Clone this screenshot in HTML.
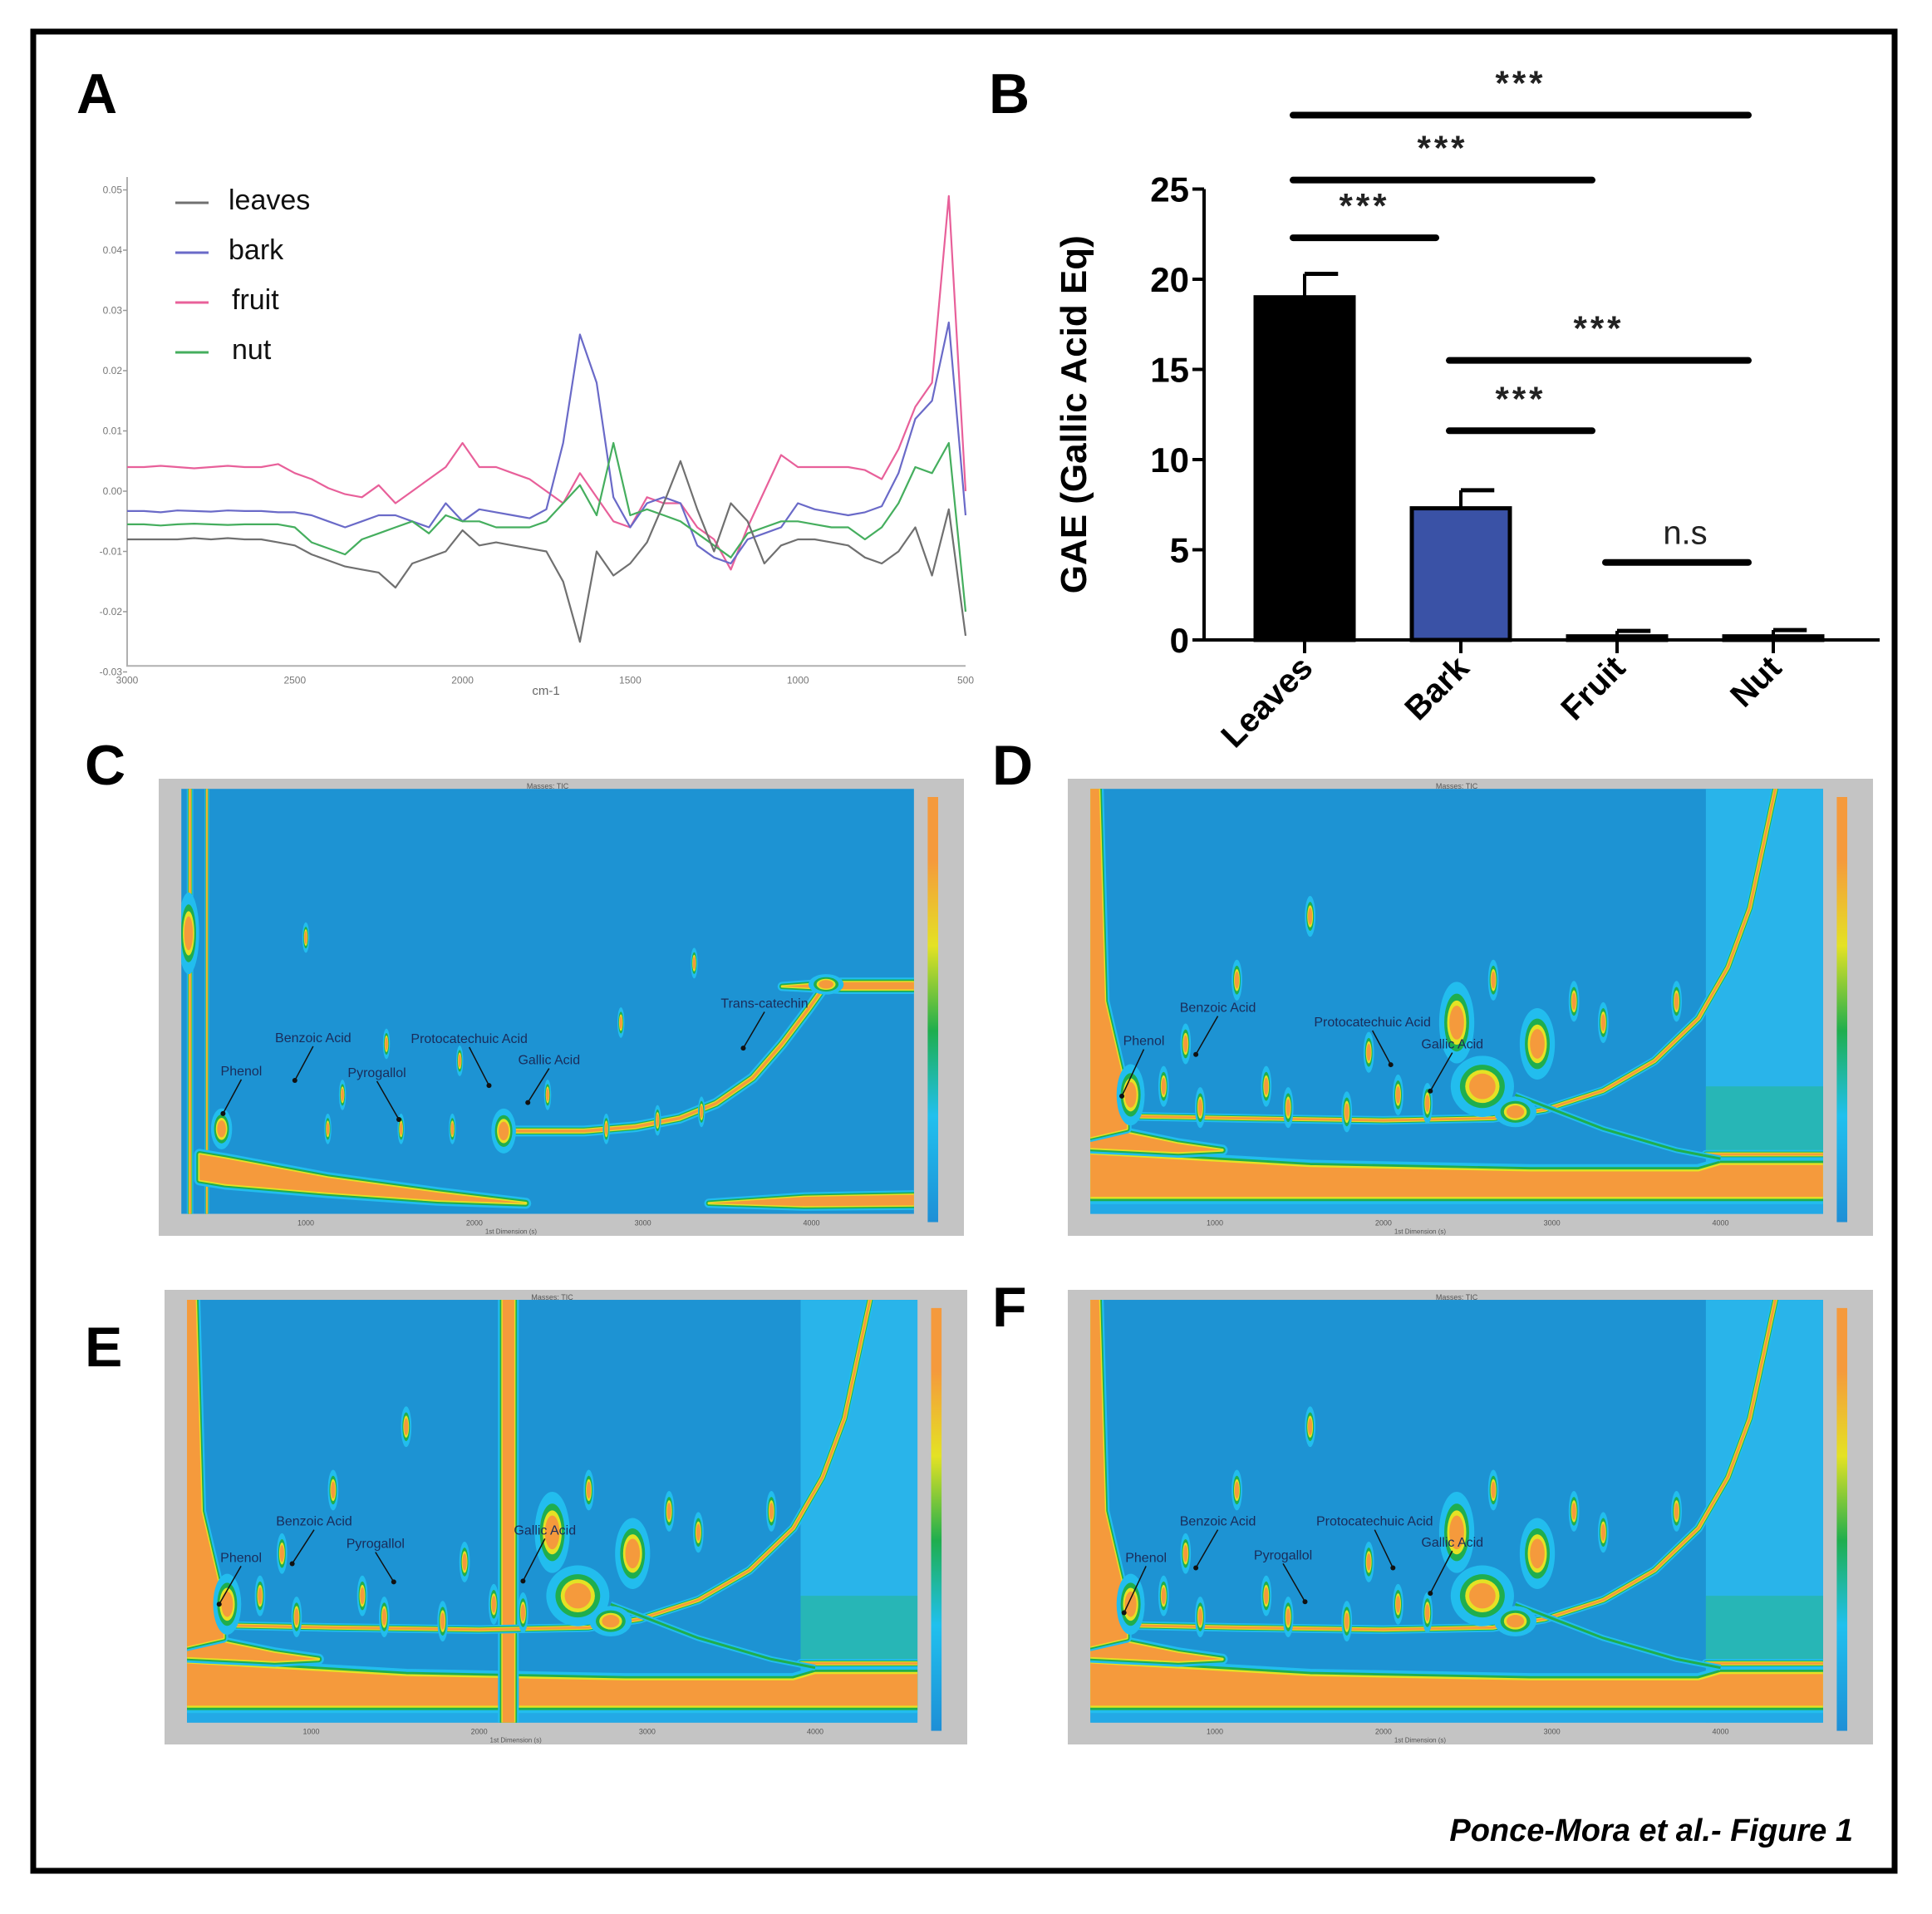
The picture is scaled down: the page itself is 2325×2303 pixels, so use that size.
<!DOCTYPE html>
<html><head><meta charset="utf-8"><style>
html,body{margin:0;padding:0;background:#fff;}
svg{display:block;font-family:"Liberation Sans",sans-serif;}
</style></head><body>
<svg id="fig" width="2325" height="2303" viewBox="0 0 2325 2303" xmlns="http://www.w3.org/2000/svg">
<rect x="0" y="0" width="2325" height="2303" fill="#fff"/>
<rect x="40" y="38" width="2240" height="2213" fill="none" stroke="#000" stroke-width="7"/>
<text x="92" y="136" font-size="68" font-weight="bold">A</text>
<text x="1190" y="136" font-size="68" font-weight="bold">B</text>
<text x="102" y="944" font-size="68" font-weight="bold">C</text>
<text x="1194" y="944" font-size="68" font-weight="bold">D</text>
<text x="102" y="1644" font-size="68" font-weight="bold">E</text>
<text x="1194" y="1596" font-size="68" font-weight="bold">F</text>
<text x="2230" y="2215" font-size="38" font-weight="bold" font-style="italic" text-anchor="end">Ponce-Mora et al.-  Figure 1</text>
<g id="panelA"></g>
<g id="panelB"></g>
<g id="heatmaps"></g>
</svg>
<script>
const NS="http://www.w3.org/2000/svg";
// ---- Panel A data ----
const wavenumbers=[3000,2950,2900,2850,2800,2750,2700,2650,2600,2550,2500,2450,2400,2350,2300,2250,2200,2150,2100,2050,2000,1950,1900,1850,1800,1750,1700,1650,1600,1550,1500,1450,1400,1350,1300,1250,1200,1150,1100,1050,1000,950,900,850,800,750,700,650,600,550,500];
const leavesVals=[-0.008,-0.008,-0.008,-0.008,-0.0078,-0.008,-0.0078,-0.008,-0.008,-0.0085,-0.009,-0.0105,-0.0115,-0.0125,-0.013,-0.0135,-0.016,-0.012,-0.011,-0.010,-0.0065,-0.009,-0.0085,-0.009,-0.0095,-0.010,-0.015,-0.025,-0.010,-0.014,-0.012,-0.0085,-0.002,0.005,-0.003,-0.010,-0.002,-0.005,-0.012,-0.009,-0.008,-0.008,-0.0085,-0.009,-0.011,-0.012,-0.010,-0.006,-0.014,-0.003,-0.024];
const barkVals=[-0.0033,-0.0033,-0.0035,-0.0032,-0.0033,-0.0034,-0.0032,-0.0033,-0.0033,-0.0035,-0.0035,-0.004,-0.005,-0.006,-0.005,-0.004,-0.004,-0.005,-0.006,-0.002,-0.005,-0.003,-0.0035,-0.004,-0.0045,-0.003,0.008,0.026,0.018,-0.001,-0.006,-0.002,-0.001,-0.002,-0.009,-0.011,-0.012,-0.008,-0.007,-0.006,-0.002,-0.003,-0.0035,-0.004,-0.0035,-0.0025,0.003,0.012,0.015,0.028,-0.004];
const fruitVals=[0.004,0.004,0.0042,0.004,0.0038,0.004,0.0042,0.004,0.004,0.0045,0.003,0.002,0.0005,-0.0005,-0.001,0.001,-0.002,0.000,0.002,0.004,0.008,0.004,0.004,0.003,0.002,0.000,-0.002,0.003,-0.001,-0.005,-0.006,-0.001,-0.002,-0.002,-0.006,-0.008,-0.013,-0.006,0.000,0.006,0.004,0.004,0.004,0.004,0.0035,0.002,0.007,0.014,0.018,0.049,0.000];
const nutVals=[-0.0055,-0.0055,-0.0057,-0.0055,-0.0054,-0.0055,-0.0056,-0.0055,-0.0055,-0.0055,-0.006,-0.0085,-0.0095,-0.0105,-0.008,-0.007,-0.006,-0.005,-0.007,-0.004,-0.005,-0.005,-0.006,-0.006,-0.006,-0.005,-0.002,0.001,-0.004,0.008,-0.004,-0.003,-0.004,-0.005,-0.007,-0.009,-0.011,-0.007,-0.006,-0.005,-0.005,-0.0055,-0.006,-0.006,-0.008,-0.006,-0.002,0.004,0.003,0.008,-0.02];
const seriesNames=["leaves","bark","fruit","nut"];
const seriesColors=["#707070","#6a6ac8","#e8609a","#45ae5e"];
const xTickVals=[3000,2500,2000,1500,1000,500];
const yTickVals=[0.05,0.04,0.03,0.02,0.01,0.00,-0.01,-0.02,-0.03];
const yTickLabels=["0.05","0.04","0.03","0.02","0.01","0.00","-0.01","-0.02","-0.03"];
// ---- Panel B data ----
const categories=["Leaves","Bark","Fruit","Nut"];
const gaeMeans=[19.0,7.3,0.2,0.2];
const gaeErrors=[1.3,1.0,0.3,0.35];
const barColors=["#000000","#3a52a6","#000000","#000000"];
const bTicks=[0,5,10,15,20,25];
const sigFrom=[0,0,0,1,1,2];
const sigTo=[3,2,1,3,2,3];
const sigY=[29.1,25.5,22.3,15.5,11.6,4.3];
const sigLabels=["***","***","***","***","***","n.s"];

function el(tag,attrs,parent){const e=document.createElementNS(NS,tag);for(const k in attrs)e.setAttribute(k,attrs[k]);parent.appendChild(e);return e;}

// ---- Panel A ----
(function(){
const g=document.getElementById('panelA');
const X0=153,X1=1162,Y0=591,K=7250;
const xs=w=>X0+(3000-w)/2500*(X1-X0);
const ys=v=>Y0-v*K;
const ax=el('path',{d:`M${X0} 213 V${ys(-0.029)} H${X1}`,fill:'none',stroke:'#b0b0b0','stroke-width':2},g);


yTickVals.forEach((v,i)=>{
 el('line',{x1:X0-5,x2:X0,y1:ys(v),y2:ys(v),stroke:'#999','stroke-width':1.5},g);
 const t=el('text',{x:X0-6,y:ys(v)+4,'font-size':12,fill:'#777','text-anchor':'end'},g);t.textContent=yTickLabels[i];
 
 
});
xTickVals.forEach(v=>{
 const t=el('text',{x:xs(v),y:ys(-0.029)+21,'font-size':12,fill:'#777','text-anchor':'middle'},g);t.textContent=v;
 
 
});
const xt=el('text',{x:657,y:836,'font-size':15,fill:'#666','text-anchor':'middle'},g);xt.textContent='cm-1';


const data=[leavesVals,barkVals,fruitVals,nutVals];
[2,1,3,0].forEach(si=>{
 const vals=data[si];
 const d=vals.map((v,i)=>(i?'L':'M')+xs(wavenumbers[i]).toFixed(1)+' '+ys(v).toFixed(1)).join(' ');
 const p=el('path',{d:d,fill:'none',stroke:seriesColors[si],'stroke-width':2.2,'stroke-linejoin':'round'},g);
 
 
});
seriesNames.forEach((n,i)=>{
 const y=244+i*60;
 const l=el('line',{x1:211,x2:251,y1:y,y2:y,stroke:seriesColors[i],'stroke-width':3},g);
 
 
 const t=el('text',{x:i>=2?279:275,y:y+8,'font-size':34,fill:'#111'},g);t.textContent=n;
 
 
});
})();

// ---- Panel B ----
(function(){
const g=document.getElementById('panelB');
const AX=1449,Y0=770,K=21.7,X1=2262,C0=1570,DX=188,BW=122;
const ys=v=>Y0-v*K, xc=i=>C0+i*DX;
const ax=el('path',{d:`M${AX} ${ys(25)} V${Y0} H${X1}`,fill:'none',stroke:'#000','stroke-width':4},g);


bTicks.forEach(v=>{
 el('line',{x1:AX-14,x2:AX,y1:ys(v),y2:ys(v),stroke:'#000','stroke-width':4},g);
 const t=el('text',{x:AX-18,y:ys(v)+15,'font-size':42,'font-weight':'bold','text-anchor':'end'},g);t.textContent=v;
 
 
});
const yt=el('text',{x:0,y:0,'font-size':44,'font-weight':'bold','text-anchor':'middle',transform:`translate(1307 ${ys(12.5)}) rotate(-90)`},g);yt.textContent='GAE (Gallic Acid Eq)';


categories.forEach((c,i)=>{
 const x=xc(i);
 el('line',{x1:x,x2:x,y1:ys(gaeMeans[i]),y2:ys(gaeMeans[i]+gaeErrors[i]),stroke:'#000','stroke-width':4},g);
 el('line',{x1:x,x2:x+BW*0.33,y1:ys(gaeMeans[i]+gaeErrors[i]),y2:ys(gaeMeans[i]+gaeErrors[i]),stroke:'#000','stroke-width':5},g);
 const b=el('rect',{x:x-BW/2+2,y:ys(gaeMeans[i]),width:BW-4,height:Math.max(ys(0)-ys(gaeMeans[i]),1),fill:barColors[i],stroke:'#000','stroke-width':5},g);
 
 
 el('line',{x1:x,x2:x,y1:Y0,y2:Y0+16,stroke:'#000','stroke-width':4},g);
 const t=el('text',{x:0,y:0,'font-size':40,'font-weight':'bold','text-anchor':'end',transform:`translate(${x+12} ${Y0+36}) rotate(-45)`},g);t.textContent=c;
 
 
});
sigFrom.forEach((f,i)=>{
 const x1=xc(f)-14,x2=xc(sigTo[i])-30,y=ys(sigY[i]);
 const l=el('line',{x1:x1,x2:x2,y1:y,y2:y,stroke:'#000','stroke-width':8,'stroke-linecap':'round'},g);
 
 
 const ns=sigLabels[i]==='n.s';
 const t=el('text',{x:(x1+x2)/2+(ns?10:0),y:y-(ns?22:24),'font-size':ns?40:42,'font-weight':ns?'normal':'bold','letter-spacing':ns?0:4,'text-anchor':'middle',fill:'#222'},g);t.textContent=sigLabels[i];
 
 
});
})();

// ---- Heatmaps ----
const panels=[
 {id:'c',fx:191,fy:937,fw:969,fh:550,type:'c',labels:[['Phenol',0.082,0.674,-0.025,0.09],['Benzoic Acid',0.18,0.596,-0.025,0.09],['Pyrogallol',0.267,0.678,0.03,0.1],['Protocatechuic Acid',0.393,0.598,0.027,0.1],['Gallic Acid',0.502,0.648,-0.029,0.09],['Trans-catechin',0.796,0.515,-0.029,0.095]]},
 {id:'d',fx:1285,fy:937,fw:969,fh:550,type:'d',labels:[['Phenol',0.073,0.603,-0.03,0.12],['Benzoic Acid',0.174,0.525,-0.03,0.1],['Protocatechuic Acid',0.385,0.559,0.025,0.09],['Gallic Acid',0.494,0.611,-0.03,0.1]]},
 {id:'e',fx:198,fy:1552,fw:966,fh:547,type:'e',labels:[['Phenol',0.074,0.62,-0.03,0.1],['Benzoic Acid',0.174,0.534,-0.03,0.09],['Pyrogallol',0.258,0.587,0.025,0.08],['Gallic Acid',0.49,0.555,-0.03,0.11]]},
 {id:'f',fx:1285,fy:1552,fw:969,fh:547,type:'d',labels:[['Phenol',0.076,0.62,-0.03,0.12],['Benzoic Acid',0.174,0.534,-0.03,0.1],['Pyrogallol',0.263,0.614,0.03,0.1],['Protocatechuic Acid',0.388,0.534,0.025,0.1],['Gallic Acid',0.494,0.584,-0.03,0.11]]}
];
(function(){
const root=document.getElementById('heatmaps');
const defs=el('defs',{},root);
const grad=el('linearGradient',{id:'cbar',x1:0,y1:1,x2:0,y2:0},defs);
[['0','#1e8fd6'],['0.25','#20c0ee'],['0.45','#1fae4e'],['0.65','#e4e224'],['0.85','#f59a3c'],['1','#f59a3c']].forEach(s=>el('stop',{offset:s[0],'stop-color':s[1]},grad));
panels.forEach(P=>{
 const g=el('g',{},root);
 
 
 el('rect',{x:P.fx,y:P.fy,width:P.fw,height:P.fh,fill:'#c4c4c4'},g);
 const px=P.fx+0.028*P.fw,py=P.fy+0.022*P.fh,pw=0.91*P.fw,ph=0.93*P.fh;
 const X=f=>px+f*pw,Y=f=>py+f*ph;
 const cp=el('clipPath',{id:'clip'+P.id},defs);
 el('rect',{x:px,y:py,width:pw,height:ph},cp);
 const t=el('text',{x:px+pw/2,y:P.fy+12,'font-size':9,fill:'#555','text-anchor':'middle'},g);t.textContent='Masses: TIC';
 const pg=el('g',{'clip-path':`url(#clip${P.id})`},g);
 el('rect',{x:px,y:py,width:pw,height:ph,fill:'#1d93d3'},pg);
 const cb=el('rect',{x:P.fx+0.955*P.fw,y:P.fy+0.04*P.fh,width:0.013*P.fw,height:0.93*P.fh,fill:'url(#cbar)'},g);
 
 
 const pts=a=>a.map((p,i)=>(i?'L':'M')+X(p[0]).toFixed(1)+' '+Y(p[1]).toFixed(1)).join(' ');
 const stroke=(a,w)=>{[['#22bdee',w*2.6],['#1fae4e',w*1.7],['#e4e224',w*1.2],['#f59a3c',w*0.7]].forEach(s=>el('path',{d:pts(a),fill:'none',stroke:s[0],'stroke-width':s[1],'stroke-linecap':'round','stroke-linejoin':'round'},pg));};
 const blob=(a,w)=>{[['#22bdee',w*2.2],['#1fae4e',w*1.3],['#e4e224',w*0.6]].forEach(s=>el('path',{d:pts(a)+'Z',fill:s[0],stroke:s[0],'stroke-width':s[1],'stroke-linejoin':'round'},pg));el('path',{d:pts(a)+'Z',fill:'#f59a3c'},pg);};
 const spot=(x,y,rx,ry)=>{[['#22bdee',2.4],['#1fae4e',1.7],['#e4e224',1.3],['#f59a3c',1]].forEach(s=>el('ellipse',{cx:X(x),cy:Y(y),rx:rx*pw*s[1],ry:ry*ph*s[1],fill:s[0]},pg));};
 if(P.type==='c'){
  stroke([[0.012,0],[0.012,1]],3);
  stroke([[0.035,0],[0.035,1]],2);
  spot(0.01,0.34,0.006,0.04);
  blob([[0.025,0.86],[0.06,0.87],[0.2,0.915],[0.35,0.95],[0.47,0.975],[0.35,0.968],[0.2,0.95],[0.06,0.93],[0.025,0.92]],6);
  blob([[0.72,0.975],[0.85,0.96],[1,0.955],[1,0.98],[0.85,0.982]],5);
  blob([[0.82,0.465],[0.9,0.455],[1,0.455],[1,0.472],[0.9,0.472]],5);
  stroke([[0.45,0.805],[0.55,0.805],[0.62,0.795],[0.68,0.775],[0.73,0.74],[0.78,0.68],[0.82,0.6],[0.855,0.52],[0.88,0.46]],5);
  spot(0.055,0.80,0.006,0.02);spot(0.44,0.805,0.007,0.022);spot(0.88,0.46,0.01,0.01);
  [[0.2,0.8],[0.3,0.8],[0.37,0.8],[0.58,0.8],[0.65,0.78],[0.71,0.76],[0.6,0.55],[0.7,0.41],[0.17,0.35],[0.28,0.6],[0.38,0.64],[0.22,0.72],[0.5,0.72]].forEach(s=>spot(s[0],s[1],0.002,0.015));
 } else {
  el('rect',{x:X(0.84),y:Y(0),width:pw*0.2,height:ph,fill:'#29b4ea'},pg);
  el('rect',{x:X(0.84),y:Y(0.7),width:pw*0.2,height:ph*0.15,fill:'#26b892',opacity:0.6},pg);
  el('rect',{x:X(0),y:Y(0.975),width:pw,height:ph*0.03,fill:'#23a9e6'},pg);
  blob([[0,0.86],[0.1,0.87],[0.3,0.89],[0.6,0.9],[0.83,0.9],[0.86,0.885],[1,0.885],[1,0.96],[0,0.96]],8);
  blob([[0,0.79],[0.05,0.81],[0.12,0.835],[0.18,0.85],[0.12,0.855],[0,0.845]],6);
  blob([[0,0],[0.012,0],[0.02,0.5],[0.05,0.72],[0.05,0.8],[0,0.82]],5);
  stroke([[0.84,0.86],[1,0.86]],4);
  if(P.type==='e'){blob([[0.432,0],[0.448,0],[0.448,1],[0.432,1]],5);}
  stroke([[0.05,0.77],[0.2,0.775],[0.4,0.78],[0.55,0.775],[0.62,0.755],[0.7,0.71],[0.77,0.64],[0.83,0.54],[0.87,0.42],[0.9,0.28],[0.92,0.12],[0.935,0]],4);
  el('path',{d:pts([[0.58,0.72],[0.7,0.8],[0.8,0.85],[0.86,0.87]]),fill:'none',stroke:'#22bdee','stroke-width':7},pg);
  el('path',{d:pts([[0.58,0.72],[0.7,0.8],[0.8,0.85],[0.86,0.87]]),fill:'none',stroke:'#1fae4e','stroke-width':3},pg);
  spot(0.5,0.55,0.01,0.04);spot(0.535,0.7,0.018,0.03);spot(0.61,0.6,0.01,0.035);spot(0.58,0.76,0.012,0.015);spot(0.055,0.72,0.008,0.03);
  [[0.1,0.7],[0.15,0.75],[0.24,0.7],[0.27,0.75],[0.35,0.76],[0.42,0.72],[0.46,0.74],[0.66,0.5],[0.7,0.55],[0.3,0.3],[0.2,0.45],[0.13,0.6],[0.38,0.62],[0.55,0.45],[0.8,0.5]].forEach(s=>spot(s[0],s[1],0.003,0.02));
 }
 P.labels.forEach(L=>{
  const tx=X(L[1]),ty=Y(L[2]);
  const a=el('text',{x:tx,y:ty,'font-size':16,fill:'#1a2c5a','text-anchor':'middle'},g);a.textContent=L[0];
  
  
  el('line',{x1:tx,y1:ty+5,x2:tx+L[3]*pw,y2:ty+L[4]*ph,stroke:'#111','stroke-width':1.5},g);
  el('circle',{cx:tx+L[3]*pw,cy:ty+L[4]*ph,r:3,fill:'#111'},g);
 });
 [0.17,0.4,0.63,0.86].forEach((f,i)=>{const tt=el('text',{x:px+f*pw,y:py+ph+14,'font-size':9,fill:'#555','text-anchor':'middle'},g);tt.textContent=(i+1)*1000;});
 const xl=el('text',{x:px+pw*0.45,y:py+ph+24,'font-size':8,fill:'#555','text-anchor':'middle'},g);xl.textContent='1st Dimension (s)';
});
})();
</script>
</body></html>
